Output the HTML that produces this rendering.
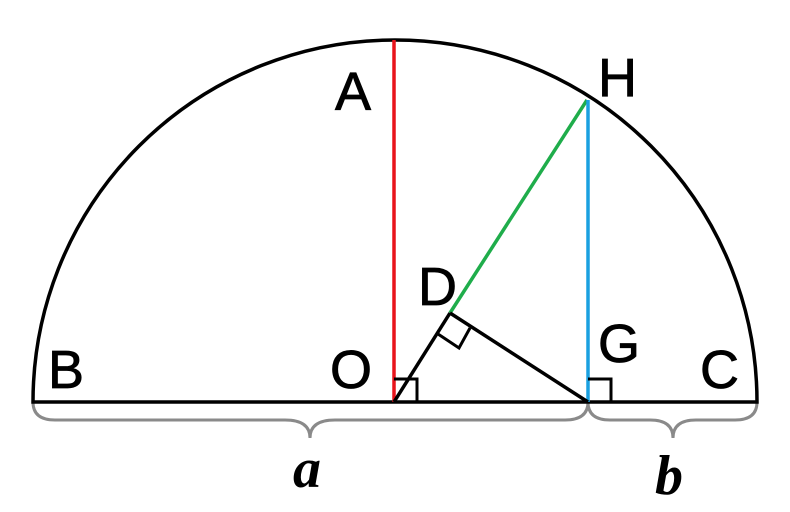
<!DOCTYPE html>
<html><head><meta charset="utf-8"><style>html,body{margin:0;padding:0;background:#fff}svg{display:block}</style></head>
<body>
<svg width="790" height="512" viewBox="0 0 790 512" xmlns="http://www.w3.org/2000/svg">
<rect width="790" height="512" fill="#fff"/>
<path d="M33,402 Q33,420 55,420 L285,420 Q310,420 310,438 Q310,420 335,420 L565,420 Q588,420 588,402" fill="none" stroke="#8a8a8a" stroke-width="3"/>
<path d="M588,402 Q588,420 610,420 L650,420 Q673,420 673,438 Q673,420 696,420 L735,420 Q757,420 757,402" fill="none" stroke="#8a8a8a" stroke-width="3"/>
<path d="M33,402 A362,362 0 0 1 757,402 Z" fill="none" stroke="#000" stroke-width="3.5"/>
<line x1="394" y1="402" x2="394" y2="40" stroke="#e8141c" stroke-width="3.5"/>
<line x1="450" y1="313" x2="587" y2="100" stroke="#1fad4b" stroke-width="3.5"/>
<line x1="588" y1="402" x2="588" y2="100" stroke="#1aa0e0" stroke-width="3.5"/>
<line x1="394" y1="402" x2="450" y2="313" stroke="#000" stroke-width="3.5"/>
<line x1="450" y1="313" x2="588" y2="402" stroke="#000" stroke-width="3.5"/>
<polyline points="394,379 417,379 417,402" fill="none" stroke="#000" stroke-width="3"/>
<polyline points="588,379 611,379 611,402" fill="none" stroke="#000" stroke-width="3"/>
<polyline points="438,334 459,348 470,328" fill="none" stroke="#000" stroke-width="3"/>
<g font-family="Liberation Sans, sans-serif" font-size="54" fill="#000" stroke="#000" stroke-width="0.8">
<text x="335" y="110">A</text>
<text x="598" y="96">H</text>
<text x="418" y="305">D</text>
<text x="598" y="362">G</text>
<text x="48" y="388">B</text>
<text x="330" y="388">O</text>
<text x="700" y="388">C</text>
</g>
<g font-family="Liberation Serif, serif" font-size="56" font-style="italic" font-weight="bold" fill="#000">
<text x="293" y="487">a</text>
<text x="655" y="494">b</text>
</g>
</svg>
</body></html>
